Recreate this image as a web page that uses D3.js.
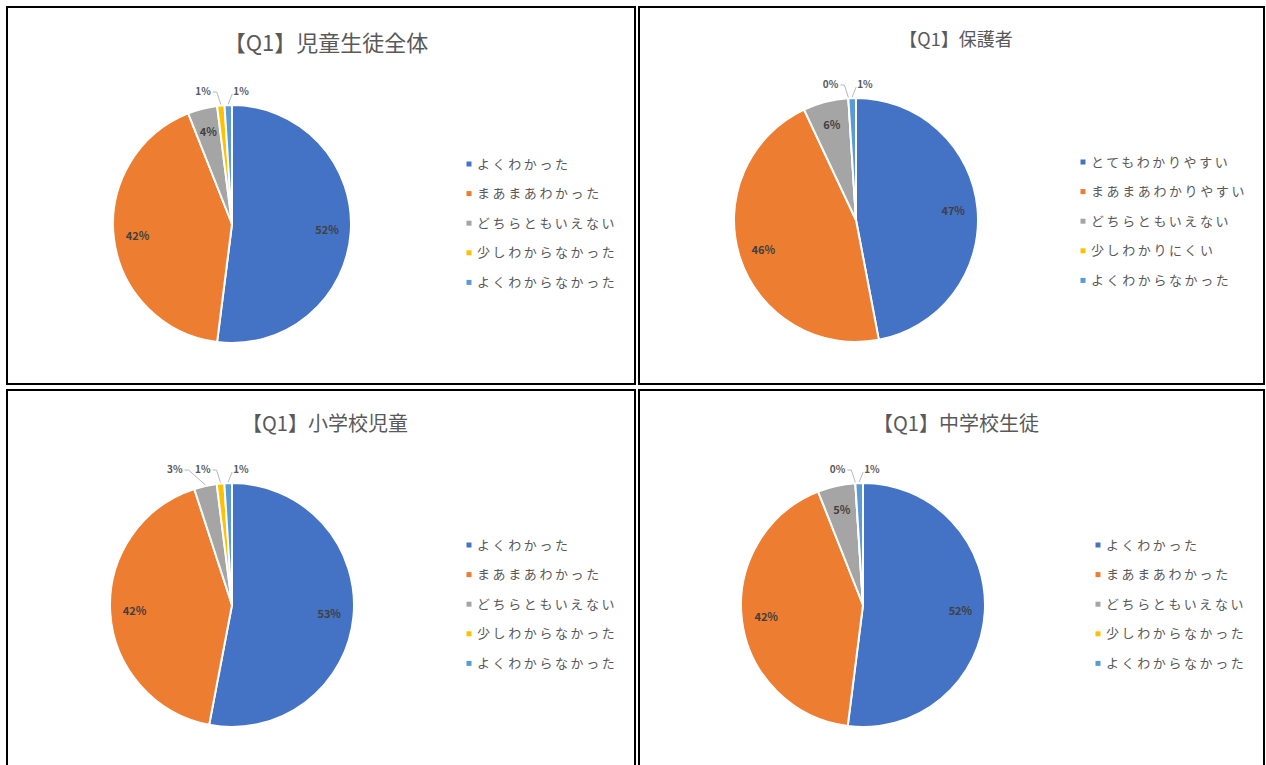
<!DOCTYPE html>
<html>
<head>
<meta charset="utf-8">
<script src="https://cdn.jsdelivr.net/npm/d3@7"></script>
<style>
  body { margin: 0; background: #fff; }
  text { font-family: "Noto Sans CJK JP", "Noto Sans", sans-serif; }
</style>
</head>
<body>
<div id="chart"></div>
<script>
var colors = ["#4472C4", "#ED7D31", "#A5A5A5", "#FFC000", "#5B9BD5"];

var studentCats = ["よくわかった", "まあまあわかった", "どちらともいえない", "少しわからなかった", "よくわからなかった"];
var parentCats = ["とてもわかりやすい", "まあまあわかりやすい", "どちらともいえない", "少しわかりにくい", "よくわからなかった"];

var titles = ["【Q1】児童生徒全体", "【Q1】保護者", "【Q1】小学校児童", "【Q1】中学校生徒"];
var allValues = [52, 42, 4, 1, 1];
var parentValues = [47, 46, 6, 0, 1];
var elemValues = [53, 42, 3, 1, 1];
var juniorValues = [52, 42, 5, 0, 1];

var width = 1266, height = 765;

var svg = d3.select("#chart").append("svg")
    .attr("width", width)
    .attr("height", height);

// panel layout
var panels = [
  {x: 7, y: 7, w: 628, h: 377, cx: 232, cy: 224, r: 119, lx: 469, ly: 164, tx: 326, ty: 51, ts: 22, cats: studentCats, vals: allValues, outside: [3, 4]},
  {x: 639, y: 7, w: 625, h: 377, cx: 856, cy: 220, r: 122, lx: 1083, ly: 162, tx: 956, ty: 46, ts: 18, cats: parentCats, vals: parentValues, outside: [3, 4]},
  {x: 7, y: 390, w: 628, h: 380, cx: 232, cy: 605, r: 122, lx: 469, ly: 545, tx: 325, ty: 431, ts: 20, cats: studentCats, vals: elemValues, outside: [2, 3, 4]},
  {x: 639, y: 390, w: 625, h: 380, cx: 863, cy: 605, r: 122, lx: 1098, ly: 545, tx: 956, ty: 431, ts: 20, cats: studentCats, vals: juniorValues, outside: [3, 4]}
];

var pie = d3.pie().sort(null).value(function(d) { return d; });

panels.forEach(function(p, i) {
  var g = svg.append("g");

  g.append("rect")
    .attr("x", p.x).attr("y", p.y)
    .attr("width", p.w).attr("height", p.h)
    .attr("fill", "#fff")
    .attr("stroke", "#000")
    .attr("stroke-width", 2);

  g.append("text")
    .attr("x", p.tx).attr("y", p.ty)
    .attr("text-anchor", "middle")
    .attr("font-size", p.ts)
    .attr("fill", "#595959")
    .text(titles[i]);

  var arcs = pie(p.vals);
  var arc = d3.arc().innerRadius(0).outerRadius(p.r);
  var labelArc = d3.arc().innerRadius(p.r * 0.8).outerRadius(p.r * 0.8);
  var outerPt = d3.arc().innerRadius(p.r).outerRadius(p.r);

  var pg = g.append("g").attr("transform", "translate(" + p.cx + "," + p.cy + ")");

  pg.selectAll("path")
    .data(arcs)
    .enter().append("path")
    .attr("d", arc)
    .attr("fill", function(d, j) { return colors[j]; })
    .attr("stroke", "#fff")
    .attr("stroke-width", 2);

  // inside labels
  pg.selectAll("text.in")
    .data(arcs.filter(function(d, j) { return p.outside.indexOf(j) < 0; }))
    .enter().append("text")
    .attr("class", "in")
    .attr("transform", function(d) {
      var c = labelArc.centroid(d);
      return "translate(" + c[0] + "," + c[1] + ")";
    })
    .attr("text-anchor", "middle")
    .attr("dy", "0.35em")
    .attr("font-size", 11)
    .attr("font-weight", "bold")
    .attr("fill", "#404040")
    .text(function(d) { return d.data + "%"; });

  // outside labels with leader lines
  var outs = p.outside.map(function(j) { return arcs[j]; });
  var n = outs.length;
  var labelY = -p.r - 14;
  var nextLeft = null;
  for (var k = n - 1; k >= 0; k--) {
    var d = outs[k];
    var a = outerPt.centroid(d);
    var lx, anchor, pts;
    if (k === n - 1) {
      lx = a[0] + 5;
      anchor = "start";
      pts = [[a[0], a[1] - 1], [lx - 1, labelY + 3]];
    } else {
      lx = Math.min(a[0] - 10, nextLeft - 12);
      anchor = "end";
      pts = [[lx + 2, labelY + 1], [lx + 6, labelY + 1], [a[0], a[1] - 1]];
    }
    pg.append("path")
      .attr("d", d3.line()(pts))
      .attr("fill", "none")
      .attr("stroke", "#A6A6A6")
      .attr("stroke-width", 0.8);
    pg.append("text")
      .attr("x", lx).attr("y", labelY)
      .attr("dy", "0.35em")
      .attr("text-anchor", anchor)
      .attr("font-size", 10)
      .attr("font-weight", "bold")
      .attr("fill", "#595959")
      .text(d.data + "%");
    nextLeft = anchor === "start" ? lx : lx - 16;
  }

  // legend
  var lg = g.append("g").attr("transform", "translate(" + p.lx + "," + p.ly + ")");
  var item = lg.selectAll("g")
    .data(p.cats)
    .enter().append("g")
    .attr("transform", function(d, j) { return "translate(0," + (j * 29.6) + ")"; });
  item.append("rect")
    .attr("x", -2.5).attr("y", -2.5)
    .attr("width", 5).attr("height", 5)
    .attr("fill", function(d, j) { return colors[j]; });
  item.append("text")
    .attr("x", 8)
    .attr("dy", "0.35em")
    .attr("font-size", 13)
    .attr("letter-spacing", 2.6)
    .attr("fill", "#595959")
    .text(function(d) { return d; });
});
</script>
</body>
</html>
